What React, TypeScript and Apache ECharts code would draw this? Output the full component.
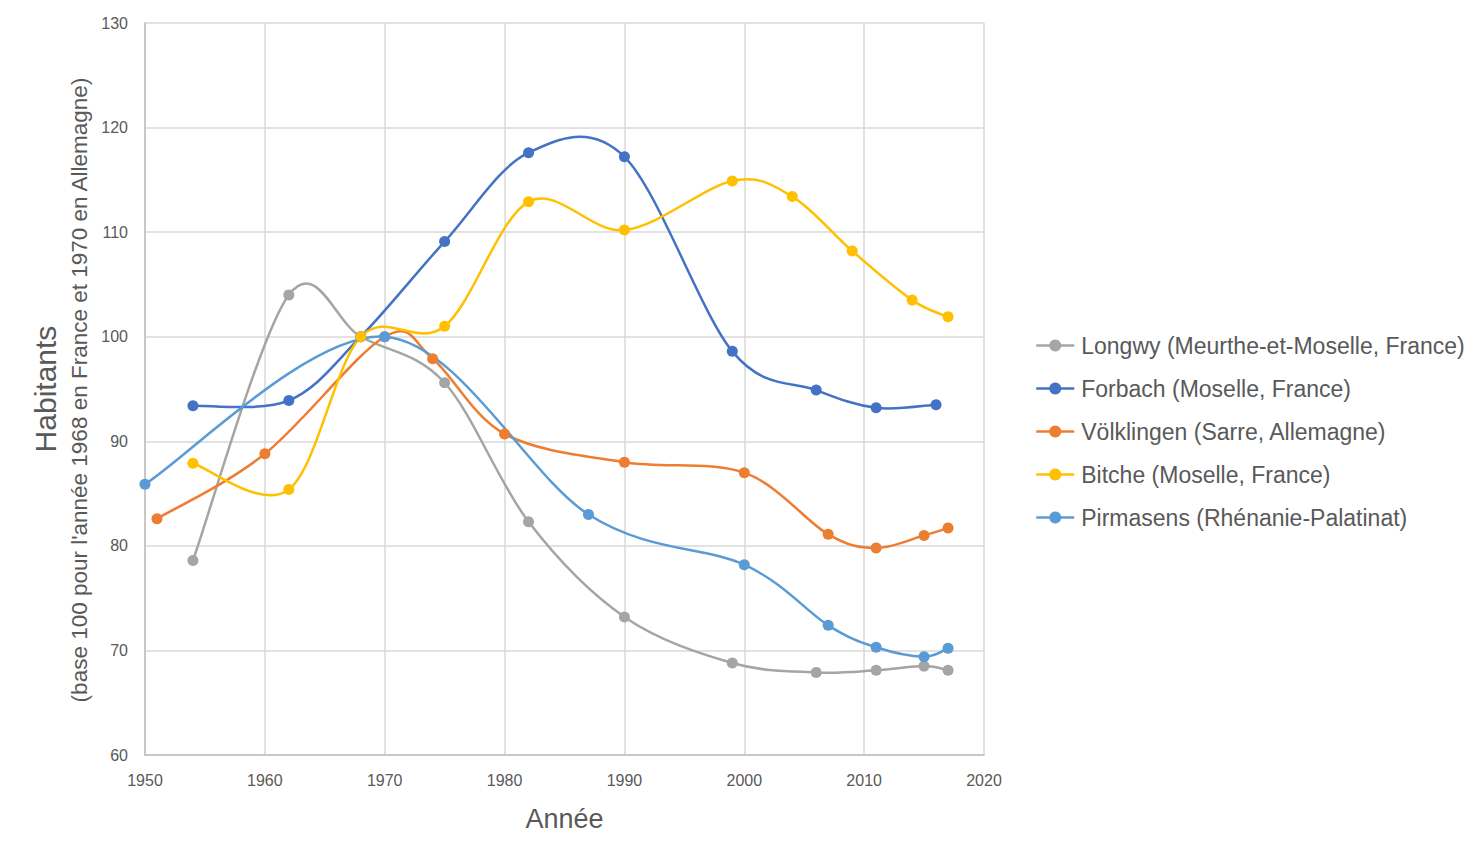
import React, { useEffect, useRef } from "react";
import * as echarts from "echarts";

const seriesNames = [
  "Longwy (Meurthe-et-Moselle, France)",
  "Forbach (Moselle, France)",
  "Völklingen (Sarre, Allemagne)",
  "Bitche (Moselle, France)",
  "Pirmasens (Rhénanie-Palatinat)",
];
const seriesColors = ["#a5a5a5", "#4472c4", "#ed7d31", "#ffc000", "#5b9bd5"];

const longwyYears = [1954, 1962, 1968, 1975, 1982, 1990, 1999, 2006, 2011, 2015, 2017];
const longwyValues = [78.6, 104.0, 100, 95.6, 82.3, 73.2, 68.8, 67.9, 68.1, 68.5, 68.1];

const forbachYears = [1954, 1962, 1968, 1975, 1982, 1990, 1999, 2006, 2011, 2016];
const forbachValues = [93.4, 93.9, 100, 109.1, 117.6, 117.2, 98.6, 94.9, 93.2, 93.5];

const volklingenYears = [1951, 1960, 1970, 1974, 1980, 1990, 2000, 2007, 2011, 2015, 2017];
const volklingenValues = [82.6, 88.8, 100, 97.9, 90.7, 88.0, 87.0, 81.1, 79.8, 81.0, 81.7];

const bitcheYears = [1954, 1962, 1968, 1975, 1982, 1990, 1999, 2004, 2009, 2014, 2017];
const bitcheValues = [87.9, 85.4, 100, 101.0, 112.9, 110.2, 114.9, 113.4, 108.2, 103.5, 101.9];

const pirmasensYears = [1950, 1970, 1987, 2000, 2007, 2011, 2015, 2017];
const pirmasensValues = [85.9, 100, 83.0, 78.2, 72.4, 70.3, 69.4, 70.2];

const allYears = [longwyYears, forbachYears, volklingenYears, bitcheYears, pirmasensYears];
const allValues = [longwyValues, forbachValues, volklingenValues, bitcheValues, pirmasensValues];

const xAxisTitle = "Année";
const yAxisTitle = "Habitants";
const yAxisSubtitle = "(base 100 pour l'année 1968 en France et 1970 en Allemagne)";

const FONT = "'Liberation Sans', Arial, sans-serif";
const TEXT = "#595959";

export default function App() {
  const ref = useRef<HTMLDivElement>(null);
  useEffect(() => {
    if (!ref.current) return;
    const chart = echarts.init(ref.current, undefined, { renderer: "svg" });

    // Smooth curves (Catmull-Rom style, like the spreadsheet's smoothed lines),
    // drawn in pixel space from the data points through the axis scales.
    const curveSeries = seriesNames.map((name, i) => {
      const years = allYears[i];
      const values = allValues[i];
      return {
        name: name + " (courbe)",
        type: "custom",
        data: years.map((y, j) => [y, values[j]]),
        z: 2 + i,
        silent: true,
        renderItem: (params: any, api: any) => {
          const k = params.dataIndex;
          const n = years.length;
          if (k >= n - 1) return null;
          const pt = (m: number) => {
            const mm = Math.max(0, Math.min(n - 1, m));
            return api.coord([years[mm], values[mm]]);
          };
          const p0 = pt(k - 1);
          const p1 = pt(k);
          const p2 = pt(k + 1);
          const p3 = pt(k + 2);
          return {
            type: "bezierCurve",
            shape: {
              x1: p1[0],
              y1: p1[1],
              x2: p2[0],
              y2: p2[1],
              cpx1: p1[0] + (p2[0] - p0[0]) / 6,
              cpy1: p1[1] + (p2[1] - p0[1]) / 6,
              cpx2: p2[0] - (p3[0] - p1[0]) / 6,
              cpy2: p2[1] - (p3[1] - p1[1]) / 6,
            },
            style: { stroke: seriesColors[i], lineWidth: 2.5, fill: "none" },
          };
        },
      };
    });

    const markerSeries = seriesNames.map((name, i) => ({
      name,
      type: "line",
      data: allYears[i].map((y, j) => [y, allValues[i][j]]),
      symbol: "circle",
      symbolSize: 11,
      showSymbol: true,
      lineStyle: { width: 2.5, color: seriesColors[i], opacity: 0 },
      itemStyle: { color: seriesColors[i] },
      emphasis: { disabled: true },
      z: 10 + i,
    }));

    chart.setOption({
      animation: false,
      backgroundColor: "#ffffff",
      textStyle: { fontFamily: FONT },
      grid: { left: 145, right: 500, top: 23, bottom: 100, containLabel: false },
      xAxis: {
        type: "value",
        min: 1950,
        max: 2020,
        interval: 10,
        axisLine: { show: true, lineStyle: { color: "#bfbfbf", width: 1.5 } },
        axisTick: { show: false },
        splitLine: { show: true, lineStyle: { color: "#d9d9d9", width: 1.5 } },
        axisLabel: {
          color: TEXT,
          fontSize: 16,
          fontFamily: FONT,
          margin: 17,
          formatter: (v: number) => String(v),
        },
        name: xAxisTitle,
        nameLocation: "middle",
        nameGap: 50,
        nameTextStyle: { color: TEXT, fontSize: 27, fontFamily: FONT },
      },
      yAxis: {
        type: "value",
        min: 60,
        max: 130,
        interval: 10,
        axisLine: { show: true, lineStyle: { color: "#bfbfbf", width: 1.5 } },
        axisTick: { show: false },
        splitLine: { show: true, lineStyle: { color: "#d9d9d9", width: 1.5 } },
        axisLabel: { color: TEXT, fontSize: 16, fontFamily: FONT, margin: 17 },
      },
      legend: {
        orient: "vertical",
        left: 1035,
        top: 334,
        padding: 0,
        itemWidth: 38,
        itemHeight: 15,
        itemGap: 20,
        lineStyle: { opacity: 1, width: 2.5 },
        textStyle: { color: TEXT, fontSize: 23, fontFamily: FONT, lineHeight: 23, padding: [0, 0, 0, 2] },
        data: seriesNames,
      },
      graphic: [
        {
          type: "text",
          x: 45,
          y: 389,
          rotation: Math.PI / 2,
          style: {
            text: yAxisTitle,
            fill: TEXT,
            font: `30px ${FONT}`,
            align: "center",
            verticalAlign: "middle",
          },
        },
        {
          type: "text",
          x: 79,
          y: 390,
          rotation: Math.PI / 2,
          style: {
            text: yAxisSubtitle,
            fill: TEXT,
            font: `22.5px ${FONT}`,
            align: "center",
            verticalAlign: "middle",
          },
        },
      ],
      series: [...curveSeries, ...markerSeries],
    });
    return () => chart.dispose();
  }, []);
  return (
    <div
      ref={ref}
      style={{ position: "fixed", left: 0, top: 0, width: 1484, height: 855, background: "#fff" }}
    />
  );
}
